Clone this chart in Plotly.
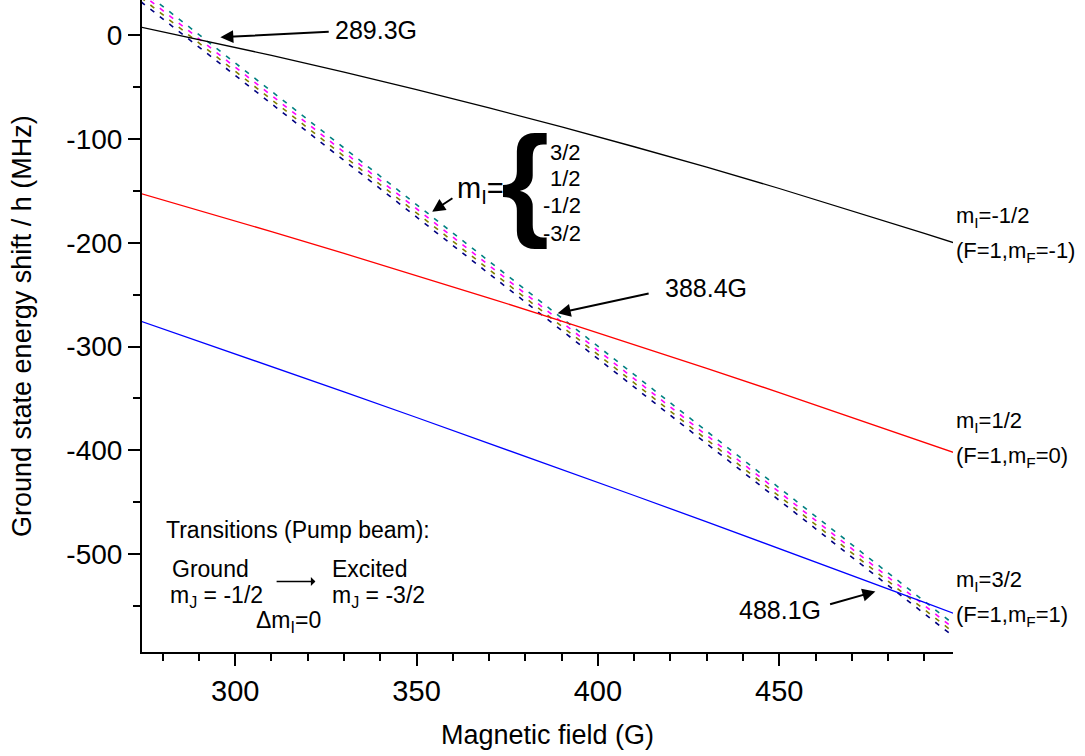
import plotly.graph_objects as go

# ---------------- data ----------------
field_G = [274, 290, 310, 330, 350, 370, 390, 410, 430, 450, 470, 490, 498]
shift_mI_m12 = [7.6, -4.2, -19.6, -35.8, -52.6, -70.2, -88.5, -107.6, -127.3, -147.8, -169.0, -190.9, -199.9]
shift_mI_p12 = [-152.7, -168.8, -189.3, -210.3, -231.6, -253.3, -275.4, -298.0, -320.9, -344.3, -368.0, -392.2, -401.9]
shift_mI_p32 = [-275.6, -294.9, -319.2, -343.6, -368.3, -393.1, -418.1, -443.4, -468.8, -494.4, -520.3, -546.3, -556.8]

excited_field_G = [274, 498.5]
excited_mI_p32 = [44.0, -568.4]
excited_mI_p12 = [40.0, -572.4]
excited_mI_m12 = [36.0, -576.4]
excited_mI_m32 = [32.0, -580.4]

x_tick_vals = [300, 350, 400, 450]
y_tick_vals = [0, -100, -200, -300, -400, -500]
y_tick_text = ["0", "-100", "-200", "-300", "-400", "-500"]

x_range = [274.3, 497.9]
y_range = [-594.1, 33.7]

FONT = "Liberation Sans, Arial, sans-serif"

fig = go.Figure()

dash_style = "5px,7px"
for ys, col in [(excited_mI_p32, "#008080"), (excited_mI_p12, "#FF00FF"),
                (excited_mI_m12, "#808000"), (excited_mI_m32, "#000080")]:
    fig.add_trace(go.Scatter(x=excited_field_G, y=ys, mode="lines",
                             line=dict(color=col, width=1.6, dash=dash_style),
                             showlegend=False, hoverinfo="skip"))

for ys, col in [(shift_mI_m12, "#000000"), (shift_mI_p12, "#FF0000"), (shift_mI_p32, "#0000FF")]:
    fig.add_trace(go.Scatter(x=field_G, y=ys, mode="lines", line=dict(color=col, width=1.3),
                             showlegend=False, hoverinfo="skip"))

axis_common = dict(showgrid=False, zeroline=False, showline=True, linecolor="black", linewidth=2,
                   tickcolor="black", tickwidth=2, ticklen=12, automargin=False)

fig.update_layout(
    width=1085, height=756,
    margin=dict(l=142, r=132, t=0, b=104, autoexpand=False),
    paper_bgcolor="white", plot_bgcolor="white",
    font=dict(family=FONT, color="black"),
    xaxis=dict(range=x_range, tickmode="array", tickvals=x_tick_vals, ticks="outside",
               tickfont=dict(size=29, family=FONT, color="black"),
               minor=dict(ticks="outside", ticklen=7, tickwidth=2, tickcolor="black",
                          tickmode="linear", tick0=300, dtick=10),
               **axis_common),
    yaxis=dict(range=y_range, tickmode="array", tickvals=y_tick_vals, ticktext=y_tick_text,
               ticks="outside", tickfont=dict(size=28, family=FONT, color="black"),
               minor=dict(ticks="outside", ticklen=7, tickwidth=2, tickcolor="black",
                          tickmode="linear", tick0=0, dtick=50),
               **axis_common),
    xaxis2=dict(range=x_range, overlaying="x", side="top", anchor="y", ticks="inside",
                tickmode="array", tickvals=x_tick_vals, showticklabels=False,
                minor=dict(ticks="inside", ticklen=7, tickwidth=2, tickcolor="black",
                           tickmode="linear", tick0=300, dtick=10),
                **axis_common),
    yaxis2=dict(range=y_range, overlaying="y", side="right", anchor="x", ticks="inside",
                tickmode="array", tickvals=y_tick_vals, showticklabels=False,
                minor=dict(ticks="inside", ticklen=7, tickwidth=2, tickcolor="black",
                           tickmode="linear", tick0=0, dtick=50),
                **axis_common),
)

ann = []

def text(x, y, s, size, xanchor="left", xref="x", yref="y", xshift=0, yshift=0, angle=0, yanchor="middle"):
    ann.append(dict(x=x, y=y, xref=xref, yref=yref, text=s, showarrow=False,
                    xanchor=xanchor, yanchor=yanchor, xshift=xshift, yshift=yshift, textangle=angle,
                    font=dict(family=FONT, size=size, color="black")))

def arrow(x, y, ax, ay, size=1.3, width=2, head=2):
    ann.append(dict(x=x, y=y, ax=ax, ay=ay, xref="x", yref="y", axref="x", ayref="y", text="",
                    showarrow=True, arrowhead=head, arrowsize=size, arrowwidth=width,
                    arrowcolor="black", standoff=0, startstandoff=0))

# axis titles
text(0.5, 0, "Magnetic field (G)", 27, xanchor="center", xref="paper", yref="paper", yshift=-83)
text(0, 0.5, "Ground state energy shift / h (MHz)", 27, xanchor="center", xref="paper", yref="paper",
     xshift=-120, angle=-90)

# crossing labels
text(327.0, 4.8, "289.3G", 25)
arrow(295.9, -2.2, 326.2, 3.2)
text(418.0, -243.5, "388.4G", 25)
arrow(388.9, -267.9, 414.4, -248.6)
text(438.3, -553.4, "488.1G", 25)
arrow(476.5, -535.8, 463.6, -548.6)

# m_I brace
text(360.6, -149.5, "m<sub>I</sub>=", 29)
arrow(354.3, -170.1, 360.3, -156.2)
text(379.9, -140.0, "<b>{</b>", 124, xanchor="center")
for yy, s in [(-113.1, "3/2"), (-138.6, "1/2"), (-164.6, "-1/2"), (-191.5, "-3/2")]:
    text(396.0, yy, s, 22, xanchor="right")

# right-side state labels
for yy, s in [(-174.9, "m<sub>I</sub>=-1/2"), (-208.6, "(F=1,m<sub>F</sub>=-1)"),
              (-372.2, "m<sub>I</sub>=1/2"), (-405.9, "(F=1,m<sub>F</sub>=0)"),
              (-526.2, "m<sub>I</sub>=3/2"), (-559.9, "(F=1,m<sub>F</sub>=1)")]:
    text(1, yy, s, 22, xref="paper", xshift=1)

# transitions box
text(280.3, -476.4, "Transitions (Pump beam):", 23)
text(282.1, -513.9, "Ground", 23)
text(281.6, -540.6, "m<sub>J</sub> = -1/2", 23)
text(326.2, -513.9, "Excited", 23)
text(326.2, -540.6, "m<sub>J</sub> = -3/2", 23)
text(305.1, -564.7, "Δm<sub>I</sub>=0", 23)
arrow(322.1, -526.2, 311.0, -526.2, size=1.0, width=1.5, head=1)

fig.update_layout(annotations=ann)
fig.write_html("out.html", config={"displayModeBar": False},
               post_script="document.body.style.margin='0px';document.body.style.padding='0px';")
